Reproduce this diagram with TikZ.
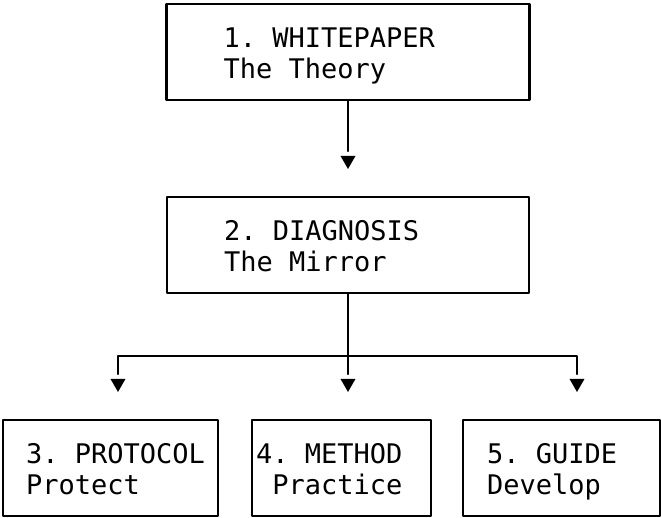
\documentclass[tikz,border=0pt]{standalone}
\usepackage{fontspec}
\setmonofont{DejaVu Sans Mono}
\usetikzlibrary{positioning,shapes.geometric}

\begin{document}
\begin{tikzpicture}[x=1pt,y=1pt,line width=2.5pt,line join=round,line cap=round,
		font=\ttfamily\fontsize{27}{31}\selectfont]
	\tikzset{
		panel/.style={draw,minimum width=#1,minimum height=96pt,inner sep=0pt},
		caption/.style={align=left,inner sep=0pt,yshift=-3.5pt},
		tipmark/.style={regular polygon,regular polygon sides=3,shape border rotate=180,
			fill=black,draw=none,minimum size=17.3pt,inner sep=0pt,outer sep=5pt}
	}
	\useasboundingbox (0,0) rectangle (661,517);
	% boxes
	\node[panel=363pt] (whitepaper) at (348,465) {};
	\node[panel=362pt] (diagnosis) at (348,272) {};
	\node[panel=215pt] (protocol) at (110.5,49) {};
	\node[panel=179pt] (method) at (341.5,49) {};
	\node[panel=197pt] (guide) at (561.5,49) {};
	% texts
	\node[caption,right=57pt of whitepaper.west] (txtwhite) {1. WHITEPAPER\\The Theory\vphantom{y}};
	\node[caption,right=57pt of diagnosis.west] (txtdiag) {2. DIAGNOSIS\\The Mirror\vphantom{y}};
	\node[caption,right=23pt of protocol.west] (txtprot) {3. PROTOCOL\\Protect\vphantom{y}};
	\node[caption,right=4pt of method.west] (txtmeth) {4. METHOD\\\phantom{x}Practice\vphantom{y}};
	\node[caption,right=24pt of guide.west] (txtguide) {5. GUIDE\\Develop\vphantom{y}};
	% arrow heads
	\node[tipmark] (tipdiag) at (348,356.7) {};
	\node[tipmark] (tipprot) at (118,133.7) {};
	\node[tipmark] (tipmeth) at (348,133.7) {};
	\node[tipmark] (tipguide) at (577,133.7) {};
	\coordinate (fork) at (348,161);
	% connectors
	\draw (whitepaper) -- (tipdiag);
	\draw (diagnosis) -- (tipmeth);
	\draw (tipprot) |- (fork) -| (tipguide);
\end{tikzpicture}
\end{document}
